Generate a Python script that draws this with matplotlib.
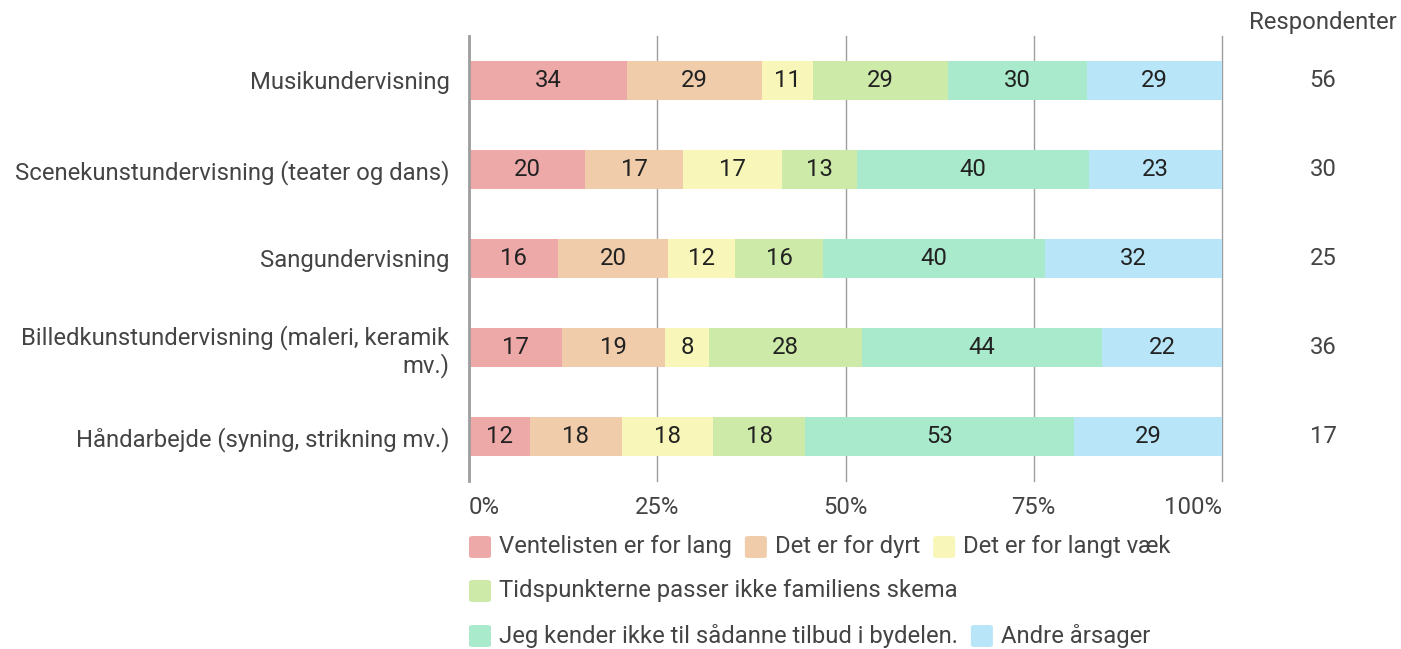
import matplotlib
matplotlib.use("Agg")
import matplotlib.pyplot as plt
from matplotlib.patches import FancyBboxPatch
import numpy as np

plt.rcParams['font.family'] = ['Roboto', 'DejaVu Sans']

categories = [
    "Musikundervisning",
    "Scenekunstundervisning (teater og dans)",
    "Sangundervisning",
    "Billedkunstundervisning (maleri, keramik\nmv.)",
    "Håndarbejde (syning, strikning mv.)",
]
series_names = [
    "Ventelisten er for lang",
    "Det er for dyrt",
    "Det er for langt væk",
    "Tidspunkterne passer ikke familiens skema",
    "Jeg kender ikke til sådanne tilbud i bydelen.",
    "Andre årsager",
]
ventelisten = [34, 20, 16, 17, 12]
dyrt = [29, 17, 20, 19, 18]
langt_vaek = [11, 17, 12, 8, 18]
tidspunkter = [29, 13, 16, 28, 18]
kender_ikke = [30, 40, 40, 44, 53]
andre = [29, 23, 32, 22, 29]
respondenter = [56, 30, 25, 36, 17]
xtick_labels = ["0%", "25%", "50%", "75%", "100%"]

colors = ["#EDA9A8", "#F0CCAA", "#F8F6B8", "#CDEAA8", "#A8EACB", "#B9E5F8"]
FS = 17.2
TXT = '#444444'

W, H = 1401, 649
fig = plt.figure(figsize=(W / 100, H / 100), dpi=100)
ax = fig.add_axes([469 / W, 1 - 481 / H, (1222 - 469) / W, (481 - 36) / H])

data = np.array([ventelisten, dyrt, langt_vaek, tidspunkter, kender_ikke, andre], dtype=float)
totals = data.sum(axis=0)
shares = data / totals * 100
y = np.arange(len(categories))
left = np.zeros(len(categories))
for i in range(len(series_names)):
    ax.barh(y, shares[i], left=left, height=0.43, color=colors[i], zorder=3, linewidth=0)
    for j in range(len(categories)):
        ax.text(left[j] + shares[i][j] / 2, y[j], str(int(data[i][j])), ha='center', va='center',
                fontsize=FS, color='#222222', zorder=4)
    left += shares[i]

ax.set_xlim(0, 100)
ax.set_ylim(len(categories) - 0.5, -0.5)
ax.set_xticks([0, 25, 50, 75, 100])
ax.set_xticklabels(xtick_labels, fontsize=FS, color=TXT)
for lbl, ha in zip(ax.get_xticklabels(), ['left', 'center', 'center', 'center', 'right']):
    lbl.set_ha(ha)
ax.set_yticks(y)
ax.set_yticklabels(categories, fontsize=FS, color=TXT, linespacing=1.15)
ax.tick_params(axis='both', length=0)
ax.tick_params(axis='x', pad=11)
ax.tick_params(axis='y', pad=14)
ax.grid(axis='x', color='#9E9E9E', linewidth=1, zorder=0)
for gl in ax.get_xgridlines():
    gl.set_clip_on(False)
for s in ['top', 'right', 'bottom']:
    ax.spines[s].set_visible(False)
ax.spines['left'].set_color('#9E9E9E')
ax.spines['left'].set_linewidth(2)
ax.spines['left'].set_zorder(5)

# Respondenter column
fig.text(1323 / W, 1 - 22 / H, "Respondenter", ha='center', va='center', fontsize=FS, color=TXT)
trans = matplotlib.transforms.blended_transform_factory(fig.transFigure, ax.transData)
for j in range(len(categories)):
    ax.text(1323 / W, y[j], str(respondenter[j]), ha='center', va='center', fontsize=FS, color=TXT,
            transform=trans)

# Legend drawn manually
rows = [[0, 1, 2], [3], [4, 5]]
row_y = [547, 591, 636]
fig.canvas.draw()
renderer = fig.canvas.get_renderer()
for r, items in enumerate(rows):
    x = 469
    yc = row_y[r]
    for i in items:
        sz = 22
        p = FancyBboxPatch((x / W, 1 - (yc + sz / 2) / H), sz / W, sz / H,
                           boxstyle="round,pad=0,rounding_size=0.003", transform=fig.transFigure,
                           facecolor=colors[i], edgecolor='none')
        fig.patches.append(p)
        t = fig.text((x + sz + 8) / W, 1 - yc / H, series_names[i], ha='left', va='center',
                     fontsize=FS, color=TXT)
        bb = t.get_window_extent(renderer)
        x = bb.x1 + 13

fig.savefig("out.png", dpi=100)
